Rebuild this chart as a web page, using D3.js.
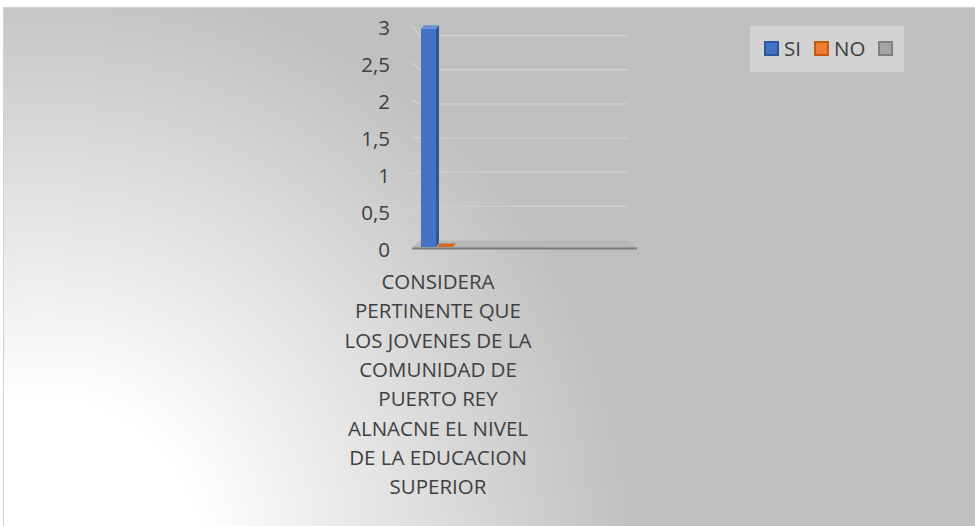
<!DOCTYPE html>
<html>
<head>
<meta charset="utf-8">
<script src="https://cdn.jsdelivr.net/npm/d3@7"></script>
<style>
  html, body { margin: 0; padding: 0; background: #fff; }
  svg { display: block; font-family: "Open Sans", sans-serif; }
</style>
</head>
<body>
<div id="chart"></div>
<script>
// data
const categories = ['CONSIDERA PERTINENTE QUE LOS JOVENES DE LA COMUNIDAD DE PUERTO REY ALNACNE EL NIVEL DE LA EDUCACION SUPERIOR']
const categoryLines = ['CONSIDERA', 'PERTINENTE QUE', 'LOS JOVENES DE LA', 'COMUNIDAD DE', 'PUERTO REY', 'ALNACNE EL NIVEL', 'DE LA EDUCACION', 'SUPERIOR']
const seriesNames = ['SI', 'NO', '']
const siValues = [3]
const noValues = [0]
const blankValues = [null]
const yTicks = [0, 0.5, 1, 1.5, 2, 2.5, 3]

const seriesColors = {
    'SI': { fill: '#4472c4', dark: '#2f5597', top: '#6a8fd4' },
    'NO': { fill: '#ed7d31', dark: '#c55a11', top: '#d06a28' },
    '': { fill: '#a5a5a5', dark: '#7f7f7f', top: '#b5b5b5' }
}

const width = 975
const height = 526
const fontSize = '20.5px'

const svg = d3.select('#chart').append('svg')
    .attr('width', width)
    .attr('height', height)

const defs = svg.append('defs')
const grad = defs.append('radialGradient')
    .attr('id', 'bg')
    .attr('gradientUnits', 'userSpaceOnUse')
    .attr('cx', 40).attr('cy', 560).attr('r', 600)
grad.append('stop').attr('offset', '0%').attr('stop-color', '#ffffff')
grad.append('stop').attr('offset', '27%').attr('stop-color', '#ffffff')
grad.append('stop').attr('offset', '100%').attr('stop-color', '#bfbfbf')

// chart area
svg.append('rect')
    .attr('x', 3.5).attr('y', 7.5)
    .attr('width', width - 3).attr('height', height - 7)
    .attr('fill', 'url(#bg)')
    .attr('stroke', '#d0d0d0')

// scales: front plane, back wall, bars, labels (fake 3d)
const yBack = d3.scaleLinear().domain([0, 3]).range([240.5, 35.6])
const yFront = d3.scaleLinear().domain([0, 3]).range([248, 26])
const yBar = d3.scaleLinear().domain([0, 3]).range([247, 28.7])
const yLabel = d3.scaleLinear().domain([0, 3]).range([250, 28.3])

const x0 = d3.scaleBand().domain(categories).range([421, 628])
const x1 = d3.scaleBand().domain(seriesNames).range([0, 48])
const backLeft = 420, backRight = 628, frontLeft = 412, frontRight = 637
const depthX = 3, depthY = -3.5

// floor
svg.append('polygon')
    .attr('points', [[frontLeft, yFront(0)], [frontRight, yFront(0)], [backRight, yBack(0)], [backLeft, yBack(0)]].join(' '))
    .attr('fill', '#b7b7b7')

// gridlines: back wall + left side wall
const grid = svg.append('g')
grid.selectAll('.back')
    .data(yTicks.filter(d => d > 0))
    .enter().append('line')
    .attr('x1', backLeft).attr('x2', backRight)
    .attr('y1', d => yBack(d)).attr('y2', d => yBack(d))
    .attr('stroke', '#cfcfcf').attr('stroke-width', 1.3)
grid.selectAll('.side')
    .data(yTicks.filter(d => d > 0))
    .enter().append('line')
    .attr('x1', frontLeft).attr('x2', backLeft)
    .attr('y1', d => yFront(d)).attr('y2', d => yBack(d))
    .attr('stroke', '#d6d6d6').attr('stroke-width', 1.1)

// x axis front edge
svg.append('line')
    .attr('x1', frontLeft).attr('x2', frontRight)
    .attr('y1', yFront(0) + 0.5).attr('y2', yFront(0) + 0.5)
    .attr('stroke', '#7a7a7a').attr('stroke-width', 2)

// bars
const rows = categories.map((c, i) => ({
    category: c,
    values: [
        { name: 'SI', value: siValues[i] },
        { name: 'NO', value: noValues[i] },
        { name: '', value: blankValues[i] }
    ].filter(d => d.value !== null)
}))

const bars = svg.append('g').selectAll('g')
    .data(rows)
    .enter().append('g')
    .attr('transform', d => 'translate(' + x0(d.category) + ',0)')

bars.selectAll('.bar')
    .data(d => d.values)
    .enter().each(function (d) {
        const g = d3.select(this)
        const bx = x1(d.name)
        const bw = d.name === 'SI' ? x1.bandwidth() - 1 : x1.bandwidth()
        const top = yBar(d.value)
        const bottom = yBar(0)
        const c = seriesColors[d.name]
        // front
        if (bottom - top > 0.5) {
            g.append('rect')
                .attr('x', bx).attr('y', top)
                .attr('width', bw).attr('height', bottom - top)
                .attr('fill', c.fill)
            // side
            g.append('polygon')
                .attr('points', [[bx + bw, top], [bx + bw + depthX, top + depthY], [bx + bw + depthX, bottom + depthY], [bx + bw, bottom]].join(' '))
                .attr('fill', c.dark)
        }
        // top
        g.append('polygon')
            .attr('points', [[bx, top], [bx + bw, top], [bx + bw + depthX, top + depthY], [bx + depthX, top + depthY]].join(' '))
            .attr('fill', c.top)
    })

// y axis labels
const yAxis = svg.append('g')
    .attr('transform', 'translate(398,0)')
    .call(d3.axisLeft(yLabel).tickValues(yTicks).tickSize(0).tickPadding(8)
        .tickFormat(d => String(d).replace('.', ',')))
yAxis.select('.domain').remove()
yAxis.selectAll('text')
    .attr('fill', '#404040')
    .style('font-size', fontSize)
    .style('font-family', '"Open Sans", sans-serif')

// category label
const labelX = x0(categories[0]) + (x1('SI') + x1('NO') + x1.bandwidth()) / 2 + 1
svg.append('text')
    .attr('x', labelX)
    .attr('y', 282)
    .attr('text-anchor', 'middle')
    .attr('fill', '#404040')
    .style('font-size', fontSize)
    .selectAll('tspan')
    .data(categoryLines)
    .enter().append('tspan')
    .attr('x', labelX)
    .attr('dy', (d, i) => i === 0 ? '0.35em' : 29.3)
    .text(d => d)

// legend
const legend = svg.append('g')
legend.append('rect')
    .attr('x', 750).attr('y', 26)
    .attr('width', 154).attr('height', 46)
    .attr('fill', '#d2d2d2')
const legendX = d3.scaleOrdinal().domain(seriesNames).range([764, 814, 878])
const items = legend.selectAll('.item')
    .data(seriesNames)
    .enter().append('g')
    .attr('transform', d => 'translate(' + legendX(d) + ',41)')
items.append('rect')
    .attr('x', 1).attr('y', 1)
    .attr('width', 13).attr('height', 13)
    .attr('fill', d => seriesColors[d].fill)
    .attr('stroke', d => seriesColors[d].dark)
    .attr('stroke-width', 2)
items.append('text')
    .attr('x', 20).attr('y', 7.5)
    .attr('dy', '0.35em')
    .attr('fill', '#404040')
    .style('font-size', fontSize)
    .text(d => d)
</script>
</body>
</html>
